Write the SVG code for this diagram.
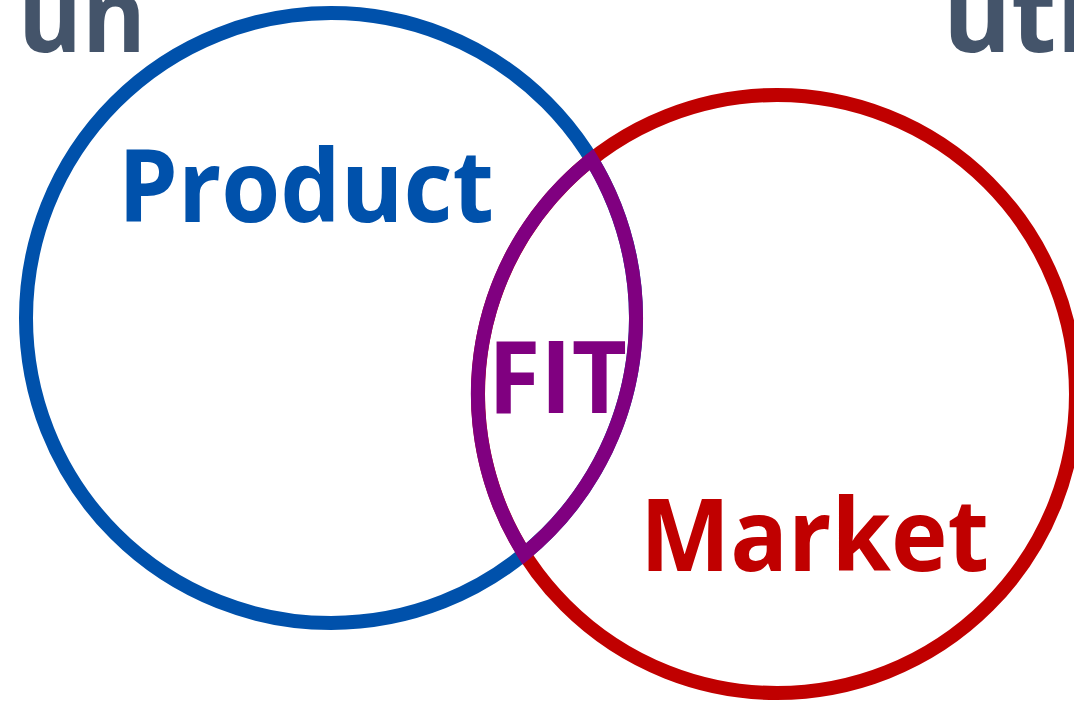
<svg xmlns="http://www.w3.org/2000/svg" width="1074" height="707" viewBox="0 0 1074 707">
  <style>
    .lbl { font-family: "Open Sans", "Liberation Sans", sans-serif; font-weight: 700; }
    .ring { fill: none; stroke-width: 14; }
  </style>
  <rect width="1074" height="707" fill="#ffffff"/>
  <!-- partially visible heading words -->
  <g id="heading" class="lbl" fill="#44546A" font-size="104">
    <text x="18" y="52" textLength="128" lengthAdjust="spacingAndGlyphs">un</text>
    <text x="943" y="52">uti</text>
  </g>
  <g id="product">
    <circle class="ring" cx="331" cy="318" r="305" stroke="#0051AB"/>
    <text class="lbl" x="118" y="222" font-size="100" fill="#0051AB" textLength="376" lengthAdjust="spacingAndGlyphs">Product</text>
  </g>
  <g id="market">
    <circle class="ring" cx="777" cy="394" r="299" stroke="#C00000"/>
    <text class="lbl" x="640" y="571" font-size="100" fill="#C00000" textLength="349" lengthAdjust="spacingAndGlyphs">Market</text>
  </g>
  <!-- overlap lens drawn on top of both rings -->
  <g id="fit">
    <path class="ring" stroke="#800080" stroke-linejoin="miter" d="M591.5 159.4 A299 299 0 0 0 524.3 554 A305 305 0 0 0 591.5 159.4 Z"/>
    <text class="lbl" x="488" y="413" font-size="100" fill="#800080" textLength="139" lengthAdjust="spacingAndGlyphs">FIT</text>
  </g>
</svg>
